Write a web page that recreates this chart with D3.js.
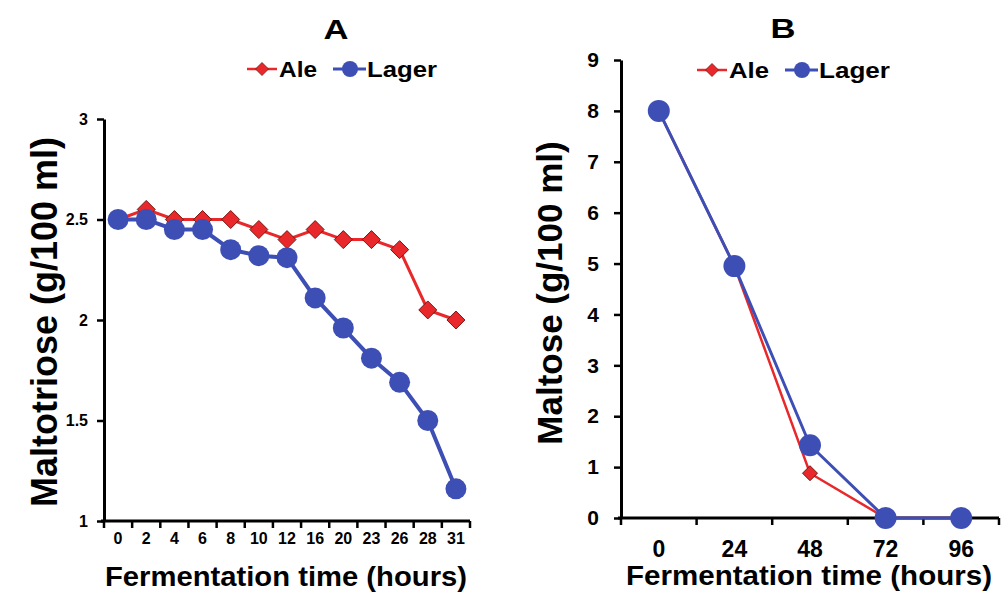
<!DOCTYPE html>
<html>
<head>
<meta charset="utf-8">
<script src="https://cdn.jsdelivr.net/npm/d3@7"></script>
<style>
	body { margin: 0; background: #fff; }
	svg text { font-family: Arial, "Liberation Sans", sans-serif; fill: #000; }
</style>
</head>
<body>
<div id="chart"></div>
<script>
// panel A - maltotriose
const hoursA = ['0', '2', '4', '6', '8', '10', '12', '16', '20', '23', '26', '28', '31'];
const aleA = [2.5, 2.55, 2.5, 2.5, 2.5, 2.45, 2.4, 2.45, 2.4, 2.4, 2.35, 2.05, 2.0];
const lagerA = [2.5, 2.5, 2.45, 2.45, 2.35, 2.32, 2.31, 2.11, 1.96, 1.81, 1.69, 1.5, 1.16];
const ticksA = [1, 1.5, 2, 2.5, 3];

// panel B - maltose
const hoursB = ['0', '24', '48', '72', '96'];
const aleB = [8, 4.95, 0.88, 0, 0];
const lagerB = [8, 4.95, 1.43, 0, 0];
const ticksB = [0, 1, 2, 3, 4, 5, 6, 7, 8, 9];

const RED = '#e8282a', BLUE = '#3d4fb5';
const FONT = 'Arial, "Liberation Sans", sans-serif';

const svg = d3.select('#chart').append('svg')
	.attr('width', 1005)
	.attr('height', 594);

drawPanel({
	title: 'A', titleX: 336, titleY: 39,
	left: 104, right: 470, top: 119, bottom: 521,
	cats: hoursA, ale: aleA, lager: lagerA, ticks: ticksA, yDomain: [1, 3],
	yFont: 16, yPad: 9, xFont: 16, xPad: 12,
	xTitleX: 286, xTitleY: 586, xTitleLen: 362,
	yTitle: 'Maltotriose (g/100 ml)', yTitleX: 57, yTitleY: 322, yTitleFont: 36,
	legendX: 247, legendY: 69, aleLen: 38, lagerLen: 70,
	rCircle: 10.5, rDiamond: 9, lineW: [3, 4]
});

drawPanel({
	title: 'B', titleX: 783, titleY: 38,
	left: 621, right: 999, top: 60, bottom: 518,
	cats: hoursB, ale: aleB, lager: lagerB, ticks: ticksB, yDomain: [0, 9],
	yFont: 21, yPad: 15, xFont: 23, xPad: 23,
	xTitleX: 809, xTitleY: 585, xTitleLen: 366,
	yTitle: 'Maltose (g/100 ml)', yTitleX: 562, yTitleY: 293, yTitleFont: 35,
	legendX: 697, legendY: 70, aleLen: 40, lagerLen: 71,
	rCircle: 11, rDiamond: 7.5, lineW: [2.5, 3]
});

function diamond(r) {
	return `M0,${-r}L${r},0L0,${r}L${-r},0Z`;
}

function drawPanel(c) {
	let g = svg.append('g'),
		x = d3.scaleBand().domain(c.cats).range([c.left, c.right]).padding(0),
		y = d3.scaleLinear().domain(c.yDomain).range([c.bottom, c.top]);

	// title
	g.append('text')
		.attr('x', c.titleX)
		.attr('y', c.titleY)
		.attr('text-anchor', 'middle')
		.attr('textLength', 25)
		.attr('lengthAdjust', 'spacingAndGlyphs')
		.style('font-size', '28px')
		.style('font-weight', 'bold')
		.text(c.title);

	// y axis
	let yAxis = g.append('g')
		.attr('transform', `translate(${c.left}, 0)`)
		.call(d3.axisLeft(y).tickValues(c.ticks).tickSize(7).tickSizeOuter(0).tickPadding(c.yPad).tickFormat(d => d));
	yAxis.attr('font-size', null).attr('font-family', null)
		.style('font-size', c.yFont + 'px')
		.style('font-weight', 'bold')
		.style('font-family', FONT);
	yAxis.select('.domain').style('stroke', '#000').style('stroke-width', '3px');
	yAxis.selectAll('.tick line').style('stroke', '#000').style('stroke-width', '2.5px');

	// x axis, ticks sit between categories
	let xAxis = g.append('g')
		.attr('transform', `translate(0, ${c.bottom})`)
		.call(d3.axisBottom(x).tickSize(0).tickSizeOuter(0).tickPadding(c.xPad));
	xAxis.attr('font-size', null).attr('font-family', null)
		.style('font-size', c.xFont + 'px')
		.style('font-weight', 'bold')
		.style('font-family', FONT);
	xAxis.select('.domain')
		.attr('d', `M${c.left - 3},0H${c.right}`)
		.style('stroke', '#000').style('stroke-width', '3px');
	let edges = c.cats.map(d => x(d)).concat([x.range()[1]]);
	xAxis.selectAll('.edge')
		.data(edges)
		.enter().append('line')
		.attr('class', 'edge')
		.attr('x1', d => d).attr('x2', d => d)
		.attr('y1', 0).attr('y2', 7)
		.style('stroke', '#000').style('stroke-width', '2.5px');

	// axis titles
	g.append('text')
		.attr('x', c.xTitleX)
		.attr('y', c.xTitleY)
		.attr('text-anchor', 'middle')
		.attr('textLength', c.xTitleLen)
		.attr('lengthAdjust', 'spacingAndGlyphs')
		.style('font-size', '27px')
		.style('font-weight', 'bold')
		.text('Fermentation time (hours)');
	g.append('text')
		.attr('transform', `translate(${c.yTitleX}, ${c.yTitleY}) rotate(-90)`)
		.attr('text-anchor', 'middle')
		.style('font-size', c.yTitleFont + 'px')
		.style('font-weight', 'bold')
		.text(c.yTitle);

	// series
	let cx = (d, i) => x(c.cats[i]) + x.bandwidth() / 2;
	let line = d3.line().x(cx).y(d => y(d));
	g.append('path')
		.attr('d', line(c.ale))
		.style('fill', 'none').style('stroke', RED).style('stroke-width', c.lineW[0] + 'px');
	g.append('g').selectAll('path')
		.data(c.ale)
		.enter().append('path')
		.attr('d', diamond(c.rDiamond))
		.attr('transform', (d, i) => `translate(${cx(d, i)}, ${y(d)})`)
		.style('fill', RED).style('stroke', '#7a1512').style('stroke-width', '1px');

	g.append('path')
		.attr('d', line(c.lager))
		.style('fill', 'none').style('stroke', BLUE).style('stroke-width', c.lineW[1] + 'px');
	g.append('g').selectAll('circle')
		.data(c.lager)
		.enter().append('circle')
		.attr('cx', cx)
		.attr('cy', d => y(d))
		.attr('r', c.rCircle)
		.style('fill', BLUE);

	// legend
	let lg = g.append('g').attr('transform', `translate(${c.legendX}, ${c.legendY})`);
	lg.append('line').attr('x1', 0).attr('x2', 30).attr('y1', 0).attr('y2', 0)
		.style('stroke', RED).style('stroke-width', '2.5px');
	lg.append('path').attr('d', diamond(6.5)).attr('transform', 'translate(15, 0)')
		.style('fill', RED).style('stroke', '#7a1512').style('stroke-width', '0.8px');
	lg.append('text').attr('x', 32).attr('y', 8)
		.attr('textLength', c.aleLen).attr('lengthAdjust', 'spacingAndGlyphs')
		.style('font-size', '22px').style('font-weight', 'bold').text('Ale');
	let lx = 32 + c.aleLen + 16;
	lg.append('line').attr('x1', lx).attr('x2', lx + 33).attr('y1', 0).attr('y2', 0)
		.style('stroke', BLUE).style('stroke-width', '3px');
	lg.append('circle').attr('cx', lx + 17).attr('cy', 0).attr('r', 8).style('fill', BLUE);
	lg.append('text').attr('x', lx + 34).attr('y', 8)
		.attr('textLength', c.lagerLen).attr('lengthAdjust', 'spacingAndGlyphs')
		.style('font-size', '22px').style('font-weight', 'bold').text('Lager');
}
</script>
</body>
</html>
